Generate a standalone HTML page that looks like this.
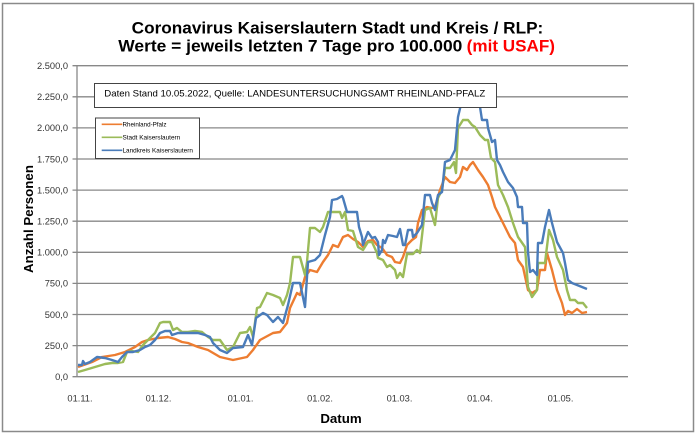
<!DOCTYPE html>
<html><head><meta charset="utf-8"><style>
html,body{margin:0;padding:0;background:#fff;}
svg{display:block;font-family:"Liberation Sans",Arial,sans-serif;}
</style></head><body>
<svg width="696" height="436" viewBox="0 0 696 436" xmlns="http://www.w3.org/2000/svg">
<rect x="0" y="0" width="696" height="436" fill="#fff"/>
<rect x="2.5" y="3.5" width="691" height="428" fill="none" stroke="#8a8a8a" stroke-width="1.5"/>
<!-- title -->
<text x="131.7" y="33.3" font-size="17" font-weight="bold" fill="#000" textLength="411.6" lengthAdjust="spacingAndGlyphs">Coronavirus Kaiserslautern Stadt und Kreis / RLP:</text>
<text x="118.3" y="51.5" font-size="17" font-weight="bold" fill="#000" textLength="344" lengthAdjust="spacingAndGlyphs">Werte = jeweils letzten 7 Tage pro 100.000</text>
<text x="466.7" y="51.5" font-size="17" font-weight="bold" fill="#ff0000" textLength="88.3" lengthAdjust="spacingAndGlyphs">(mit USAF)</text>
<!-- grid -->
<g stroke="#888" stroke-width="1.3">
<line x1="72.5" y1="65.7" x2="628" y2="65.7"/>
<line x1="72.5" y1="96.8" x2="628" y2="96.8"/>
<line x1="72.5" y1="127.9" x2="628" y2="127.9"/>
<line x1="72.5" y1="159.0" x2="628" y2="159.0"/>
<line x1="72.5" y1="190.1" x2="628" y2="190.1"/>
<line x1="72.5" y1="221.2" x2="628" y2="221.2"/>
<line x1="72.5" y1="252.3" x2="628" y2="252.3"/>
<line x1="72.5" y1="283.4" x2="628" y2="283.4"/>
<line x1="72.5" y1="314.5" x2="628" y2="314.5"/>
<line x1="72.5" y1="345.6" x2="628" y2="345.6"/>
<line x1="72.5" y1="376.7" x2="628" y2="376.7"/>
<line x1="77" y1="65.7" x2="77" y2="376.7"/>
</g>
<!-- y labels -->
<g font-size="9.3" fill="#333" text-anchor="end">
<text x="68" y="69">2.500,0</text>
<text x="68" y="100.1">2.250,0</text>
<text x="68" y="131.2">2.000,0</text>
<text x="68" y="162.3">1.750,0</text>
<text x="68" y="193.4">1.500,0</text>
<text x="68" y="224.5">1.250,0</text>
<text x="68" y="255.6">1.000,0</text>
<text x="68" y="286.7">750,0</text>
<text x="68" y="317.8">500,0</text>
<text x="68" y="348.9">250,0</text>
<text x="68" y="380">0,0</text>
</g>
<!-- x labels -->
<g font-size="9.3" fill="#333" text-anchor="middle">
<text x="80" y="401.5">01.11.</text>
<text x="158.5" y="401.5">01.12.</text>
<text x="240.5" y="401.5">01.01.</text>
<text x="320" y="401.5">01.02.</text>
<text x="399.5" y="401.5">01.03.</text>
<text x="480" y="401.5">01.04.</text>
<text x="560.5" y="401.5">01.05.</text>
</g>
<text x="341" y="423" font-size="13.3" font-weight="bold" text-anchor="middle" fill="#000">Datum</text>
<text transform="translate(33,219) rotate(-90)" font-size="13.3" font-weight="bold" text-anchor="middle" fill="#000">Anzahl Personen</text>
<!-- series -->
<g fill="none" stroke-width="2.4" stroke-linejoin="round">
<polyline stroke="#ED7D31" points="78,367 92,362 102,357 115,355 125,352 135,347 142,342 148,340 158,338 168,337 175,339 182,342 188,343 198,347 208,350 220,357 233,360 247,357 253,350 260,340 273,333 280,332 287,323 290,308 297,293 300,295 305,277 310,270 317,272 323,262 328,255 333,245 338,247 343,237 348,235 353,239 358,242 363,247 368,241 373,240 377,245 382,248 387,255 392,257 395,262 400,263 403,257 407,245 412,240 416,237 418,223 422,210 427,207 432,208 435,207 440,190 445,177 450,182 455,183 460,177 463,167 467,170 470,165 473,162 478,170 483,177 488,185 492,197 495,207 500,217 505,227 510,237 515,243 518,260 523,267 528,290 532,293 537,290 540,270 545,270 547,253 552,270 557,290 562,303 565,315 568,311 572,313 577,309 582,313 587,312"/>
<polyline stroke="#9BBB59" points="78,372 85,370 95,367 105,364 112,363 118,363 123,362 127,352 132,351 138,352 143,345 148,340 155,333 160,323 163,322 170,322 173,330 177,328 182,332 188,332 195,331 202,332 208,337 213,340 220,340 227,350 233,347 240,333 247,332 250,327 253,337 257,308 260,307 267,293 273,295 280,298 283,305 287,295 290,283 293,257 300,257 305,275 307,262 310,228 315,228 320,232 323,227 328,212 340,212 342,218 345,212 348,230 353,231 358,247 363,250 368,242 372,242 377,253 378,258 383,260 387,267 390,265 395,270 397,278 400,273 403,277 407,254 413,254 417,250 420,253 425,210 430,208 435,225 438,198 442,190 445,168 450,168 454,162 456,173 458,128 463,120 468,120 472,125 475,127 480,135 485,140 488,140 491,158 495,162 498,185 503,195 508,207 513,223 518,237 525,247 528,287 532,297 537,290 538,263 545,263 549,230 553,240 557,257 563,270 567,290 570,300 575,300 578,303 583,303 587,308"/>
<polyline stroke="#4A7CBA" points="78,365 82,365 83,361 85,364 90,362 97,357 105,358 112,360 118,362 122,357 127,352 133,352 140,350 145,347 150,345 155,340 160,333 165,331 170,331 172,335 178,333 185,333 192,333 198,333 205,335 210,337 213,343 220,350 227,353 233,348 243,347 248,335 252,345 256,318 263,313 267,315 273,322 278,317 283,323 288,305 293,283 300,283 305,307 308,262 315,260 320,255 325,235 330,217 332,200 337,199 342,196 343,198 347,212 357,212 359,227 362,237 363,245 366,237 368,232 372,238 375,237 378,242 379,255 382,250 383,240 385,243 388,235 393,236 397,237 400,229 403,245 405,245 408,230 412,230 413,237 417,233 422,225 425,195 430,195 432,203 435,210 438,195 442,192 445,162 450,160 455,150 458,117 462,100 464,85 478,85 480,107 482,120 487,120 488,128 492,142 495,140 497,160 500,165 503,172 508,182 513,188 517,197 518,207 522,207 523,223 527,223 528,252 530,272 533,270 537,275 538,243 542,243 545,227 549,210 552,223 557,242 563,253 565,263 568,280 572,283 582,287 587,289"/>
</g>
<!-- source box -->
<rect x="94.5" y="83.5" width="402" height="24" fill="#fff" stroke="#444" stroke-width="1"/>
<text x="104.3" y="96.3" font-size="9.3" fill="#000" textLength="381" lengthAdjust="spacingAndGlyphs">Daten Stand 10.05.2022, Quelle: LANDESUNTERSUCHUNGSAMT RHEINLAND-PFALZ</text>
<!-- legend -->
<rect x="95.5" y="118" width="104" height="40.5" fill="#fff" stroke="#444" stroke-width="1"/>
<line x1="101.7" y1="124.3" x2="122.3" y2="124.3" stroke="#ED7D31" stroke-width="1.6"/>
<line x1="101.7" y1="137.3" x2="122.3" y2="137.3" stroke="#9BBB59" stroke-width="1.6"/>
<line x1="101.7" y1="150.3" x2="122.3" y2="150.3" stroke="#4A7CBA" stroke-width="1.6"/>
<g font-size="6.2" fill="#000">
<text x="122.5" y="126.5" textLength="44" lengthAdjust="spacingAndGlyphs">Rheinland-Pfalz</text>
<text x="122.5" y="139.5" textLength="57.7" lengthAdjust="spacingAndGlyphs">Stadt Kaiserslautern</text>
<text x="122.5" y="152.5" textLength="70.4" lengthAdjust="spacingAndGlyphs">Landkreis Kaiserslautern</text>
</g>
</svg>
</body></html>
